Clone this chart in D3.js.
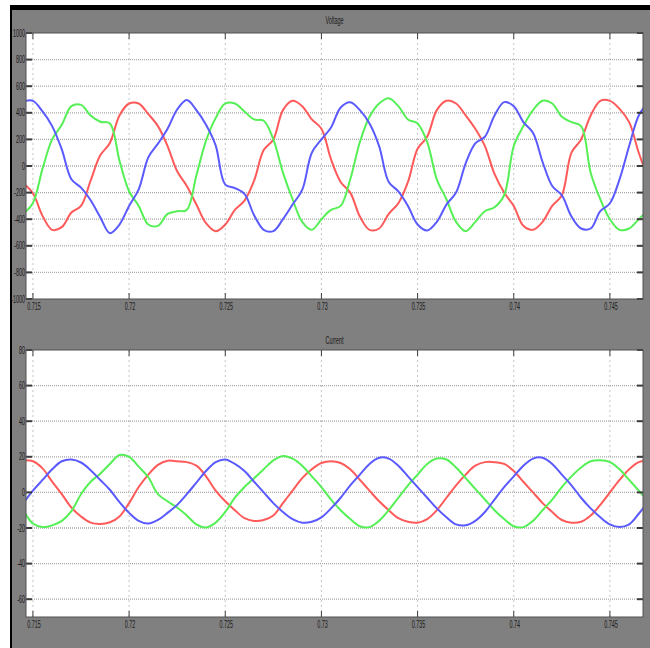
<!DOCTYPE html>
<html>
<head>
<meta charset="utf-8">
<script src="https://cdn.jsdelivr.net/npm/d3@7"></script>
<style>
  html, body { margin: 0; padding: 0; background: #fff; }
  svg { display: block; }
  text {
    font-family: "Liberation Sans", Arial, sans-serif;
    font-size: 10px;
    fill: #1a1a1a;
  }
</style>
</head>
<body>
<svg id="scope"></svg>
<script>
// sample times (s), one every 0.5 ms
const times = [
  0.7145, 0.7150, 0.7155, 0.7160, 0.7165, 0.7170, 0.7175, 0.7180, 0.7185, 0.7190,
  0.7195, 0.7200, 0.7205, 0.7210, 0.7215, 0.7220, 0.7225, 0.7230, 0.7235, 0.7240,
  0.7245, 0.7250, 0.7255, 0.7260, 0.7265, 0.7270, 0.7275, 0.7280, 0.7285, 0.7290,
  0.7295, 0.7300, 0.7305, 0.7310, 0.7315, 0.7320, 0.7325, 0.7330, 0.7335, 0.7340,
  0.7345, 0.7350, 0.7355, 0.7360, 0.7365, 0.7370, 0.7375, 0.7380, 0.7385, 0.7390,
  0.7395, 0.7400, 0.7405, 0.7410, 0.7415, 0.7420, 0.7425, 0.7430, 0.7435, 0.7440,
  0.7445, 0.7450, 0.7455, 0.7460, 0.7465, 0.7470
];

const xTicks = [0.715, 0.72, 0.725, 0.73, 0.735, 0.74, 0.745];
const xTickLabels = ["0.715", "0.72", "0.725", "0.73", "0.735", "0.74", "0.745"];
const voltageTicks = [-1000, -800, -600, -400, -200, 0, 200, 400, 600, 800, 1000];
const currentTicks = [-60, -40, -20, 0, 20, 40, 60, 80];

// voltage phases (V)
const voltageA = [ // red
  -130, -205, -375, -480, -460, -350, -300, -110, 80, 173,
  380, 470, 470, 390, 300, 150, -40, -150, -290, -430,
  -490, -440, -330, -260, -110, 120, 200, 420, 490, 450,
  350, 280, 50, -120, -200, -380, -480, -470, -360, -280,
  -120, 130, 220, 420, 490, 470, 380, 280, 150, -60,
  -200, -300, -450, -480, -420, -300, -220, 100, 200, 380,
  490, 490, 430, 330, 100, -100
];
const voltageB = [ // green
  -360, -278, -20, 200, 310, 450, 460, 380, 333, 320,
  40, -190, -300, -440, -450, -360, -340, -330, -70, 190,
  360, 470, 470, 410, 350, 340, 200, -50, -250, -420,
  -480, -400, -330, -300, -100, 180, 370, 470, 510, 450,
  350, 320, 180, -100, -250, -420, -490, -420, -340, -310,
  -220, 150, 300, 420, 490, 470, 370, 330, 300, -50,
  -250, -400, -480, -470, -400, -330
];
const voltageC = [ // blue
  485, 490, 410, 300, 125, -100, -163, -258, -385, -505,
  -440, -300, -175, 65, 168, 280, 425, 496, 420, 310,
  155, -140, -166, -210, -370, -480, -490, -400, -290, -180,
  100, 200, 290, 440, 480, 420, 320, 150, -120, -190,
  -300, -440, -485, -420, -290, -200, 20, 170, 220, 380,
  480, 450, 330, 250, 30, -150, -220, -380, -470, -470,
  -340, -280, -100, 150, 380, 480
];

// line currents (A)
const currentA = [ // red
  18, 17.5, 13.5, 6, -1, -8.5, -13.5, -17, -17.8, -16.8,
  -13.5, -6, 3, 10, 15.5, 17.8, 17.5, 17, 15, 9,
  1, -5, -10, -14.5, -16, -15.5, -13, -6, 1, 8,
  13, 16.5, 17.5, 16.5, 13, 7, 1, -5, -10, -14.5,
  -16.5, -17, -15, -10, -3, 4, 10, 15, 17, 17,
  16, 12, 6, 0, -6, -11, -15.5, -17, -16.5, -13,
  -7, 0, 7, 13, 17, 18
];
const currentB = [ // green
  -10, -17.5, -19.5, -18.5, -16, -10.5, -1, 6, 10.5, 16,
  21, 20, 14.5, 8.5, -1, -5, -8.5, -13, -18, -19.7,
  -17, -11, -3, 3, 8, 13, 18, 20.5, 19, 15,
  9, 3, -4, -10, -15, -19, -19.5, -16, -10, -3,
  4, 10, 16, 19, 18.5, 14, 8, 2, -4, -10,
  -15, -19, -19.5, -16, -10, -4, 3, 9, 14, 17.5,
  18, 17, 13, 7, 1, -5
];
const currentC = [ // blue
  -6, 1, 7, 13, 17.5, 18.5, 16.8, 12.5, 7, 1.5,
  -5.5, -11.5, -16, -17.5, -15.5, -11.5, -7, -1, 5.5, 12,
  17, 18.5, 16, 12, 6, 0, -6, -11, -15, -17,
  -16.5, -14, -9, -3, 4, 10, 16, 19.5, 19, 15,
  9, 3, -3, -9, -14, -18, -18.5, -16, -11, -4,
  3, 9, 15, 19, 19.5, 16, 10, 4, -3, -9,
  -14, -18, -19.5, -18, -12, -5
];

const phaseColors = ["#ff5a5a", "#55f055", "#5a5aff"];
const textSquash = 0.54; // scope fonts are tall and very narrow

const svg = d3.select("#scope").attr("width", 650).attr("height", 648);

// window frame: white margin, black edge, gray scope background
svg.append("rect").attr("width", 650).attr("height", 648).attr("fill", "#fff");
svg.append("rect").attr("x", 10).attr("y", 5).attr("width", 640).attr("height", 643).attr("fill", "#000");
svg.append("rect").attr("x", 12).attr("y", 10).attr("width", 638).attr("height", 638).attr("fill", "#808080");

class ScopePanel {
  constructor(config, series) {
    this.config = {
      id: config.id,
      title: config.title,
      titleY: config.titleY,
      left: config.left || 26,
      right: config.right || 643,
      top: config.top,
      bottom: config.bottom,
      xDomain: config.xDomain || [0.71464, 0.74672],
      yDomain: config.yDomain,
      yTicks: config.yTicks,
    };
    this.series = series;
    this.initVis();
  }

  initVis() {
    const vis = this;
    const c = vis.config;

    vis.xScale = d3.scaleLinear().domain(c.xDomain).range([c.left, c.right]);
    vis.yScale = d3.scaleLinear().domain(c.yDomain).range([c.bottom, c.top]);

    vis.g = svg.append("g");

    vis.g.append("text")
      .attr("transform", `translate(${(c.left + c.right) / 2},${c.titleY}) scale(${textSquash},1)`)
      .attr("text-anchor", "middle")
      .text(c.title);

    vis.g.append("rect")
      .attr("x", c.left)
      .attr("y", c.top)
      .attr("width", c.right - c.left)
      .attr("height", c.bottom - c.top)
      .attr("fill", "#fff");

    vis.g.append("clipPath").attr("id", `clip-${c.id}`)
      .append("rect")
      .attr("x", c.left)
      .attr("y", c.top)
      .attr("width", c.right - c.left)
      .attr("height", c.bottom - c.top);

    vis.renderVis();
  }

  renderVis() {
    const vis = this;
    const c = vis.config;
    const [yMin, yMax] = c.yDomain;

    // vertical dashed grid
    vis.g.append("g").selectAll("line").data(xTicks).join("line")
      .attr("x1", (d) => vis.xScale(d)).attr("x2", (d) => vis.xScale(d))
      .attr("y1", c.top).attr("y2", c.bottom)
      .attr("stroke", "#c4c4c4")
      .attr("stroke-dasharray", "2,3");

    // horizontal dotted grid
    vis.g.append("g").selectAll("line")
      .data(c.yTicks.filter((d) => d > yMin && d < yMax)).join("line")
      .attr("x1", c.left).attr("x2", c.right)
      .attr("y1", (d) => vis.yScale(d)).attr("y2", (d) => vis.yScale(d))
      .attr("stroke", "#a8a8a8")
      .attr("stroke-width", 1.3)
      .attr("stroke-dasharray", "1,1");

    // traces
    const line = d3.line()
      .x((d, i) => vis.xScale(times[i]))
      .y((d) => vis.yScale(d))
      .curve(d3.curveCatmullRom.alpha(0.5));

    vis.g.append("g")
      .attr("clip-path", `url(#clip-${c.id})`)
      .selectAll("path").data(vis.series).join("path")
      .attr("d", (d) => line(d))
      .attr("fill", "none")
      .attr("stroke", (d, i) => phaseColors[i])
      .attr("stroke-width", 2)
      .attr("stroke-linejoin", "round");

    // tick marks on all four sides
    const ticks = vis.g.append("g").attr("stroke", "#3c3c3c");
    ticks.selectAll(".yl").data(c.yTicks).join("line")
      .attr("x1", c.left).attr("x2", c.left + 6)
      .attr("y1", (d) => vis.yScale(d)).attr("y2", (d) => vis.yScale(d))
      .attr("stroke-width", 2);
    ticks.selectAll(".yr").data(c.yTicks).join("line")
      .attr("x1", c.right - 6).attr("x2", c.right)
      .attr("y1", (d) => vis.yScale(d)).attr("y2", (d) => vis.yScale(d))
      .attr("stroke-width", 2);
    ticks.selectAll(".xb").data(xTicks).join("line")
      .attr("x1", (d) => vis.xScale(d)).attr("x2", (d) => vis.xScale(d))
      .attr("y1", c.bottom).attr("y2", c.bottom - 6);
    ticks.selectAll(".xt").data(xTicks).join("line")
      .attr("x1", (d) => vis.xScale(d)).attr("x2", (d) => vis.xScale(d))
      .attr("y1", c.top).attr("y2", c.top + 6);

    // plot frame
    vis.g.append("rect")
      .attr("x", c.left).attr("y", c.top)
      .attr("width", c.right - c.left).attr("height", c.bottom - c.top)
      .attr("fill", "none")
      .attr("stroke", "#505050");

    // tick labels
    vis.g.append("g").selectAll("text").data(c.yTicks).join("text")
      .attr("transform", (d) => `translate(${c.left - 1},${vis.yScale(d)}) scale(${textSquash},1)`)
      .attr("dy", "0.35em")
      .attr("text-anchor", "end")
      .text((d) => d);

    vis.g.append("g").selectAll("text").data(xTicks).join("text")
      .attr("transform", (d) => `translate(${vis.xScale(d) + 1},${c.bottom + 11}) scale(${textSquash},1)`)
      .attr("text-anchor", "middle")
      .text((d, i) => xTickLabels[i]);
  }
}

new ScopePanel(
  { id: "voltage", title: "Voltage", titleY: 24, top: 33, bottom: 299,
    yDomain: [-1000, 1000], yTicks: voltageTicks },
  [voltageA, voltageB, voltageC]
);

new ScopePanel(
  { id: "current", title: "Current", titleY: 344, top: 350, bottom: 617,
    yDomain: [-70, 80], yTicks: currentTicks },
  [currentA, currentB, currentC]
);
</script>
</body>
</html>
